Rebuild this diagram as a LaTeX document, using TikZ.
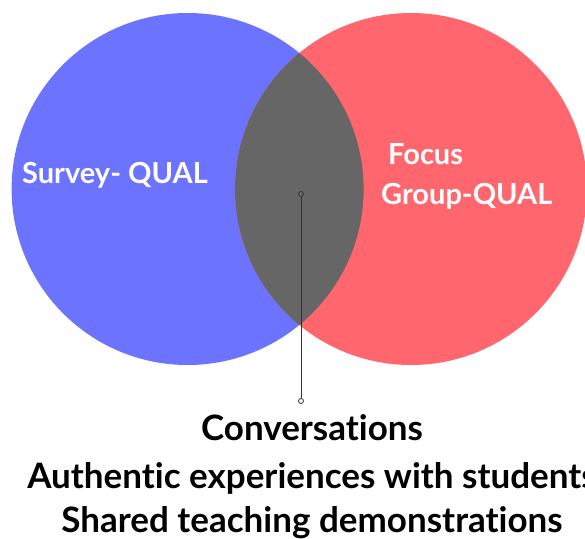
\documentclass[tikz,border=0pt]{standalone}
\usepackage{fontspec}
\setmainfont{Lato}[Ligatures={NoCommon,NoRare}]
\definecolor{vblue}{RGB}{108,115,255}
\definecolor{vred}{RGB}{255,102,110}
\definecolor{vgrey}{RGB}{102,102,102}
\begin{document}
\begin{tikzpicture}[x=1pt,y=-1pt,
  setcircle/.style={circle, inner sep=0pt, minimum size=352pt},
  inlabel/.style={anchor=base west, inner sep=0pt, text=white, font=\fontsize{29}{33}\selectfont\bfseries},
  outlabel/.style={anchor=base, inner sep=0pt, text=black, font=\fontsize{35}{40}\selectfont\bfseries},
  pin/.style={draw=black!80, line width=1pt},
  pinend/.style={circle, draw=black!80, line width=0.8pt, inner sep=0pt, minimum size=5pt}]
\useasboundingbox (0,0) rectangle (585,538);
\node[setcircle, fill=vblue] (A) at (187.6,189) {};
\node[setcircle, fill=vred] (B) at (411,189) {};
\begin{scope}
  \clip (187.6,189) circle (176pt);
  \fill[vgrey] (411,189) circle (176pt);
\end{scope}
\node[inlabel] (s) at (22,183) {Survey- QUAL};
\node[inlabel] (f1) at (388,164) {Focus};
\node[inlabel] (f2) at (381,204) {Group-QUAL};
\node[pinend, fill=vgrey] (p) at (301,194) {};
\node[pinend, fill=white] (q) at (301,401) {};
\draw[pin] (p) -- (q);
\node[outlabel] (c1) at (312,440) {Conversations};
\node[outlabel] (c2) at (312,488) {Authentic experiences with students};
\node[outlabel] (c3) at (312,532) {Shared teaching demonstrations};
\end{tikzpicture}
\end{document}
